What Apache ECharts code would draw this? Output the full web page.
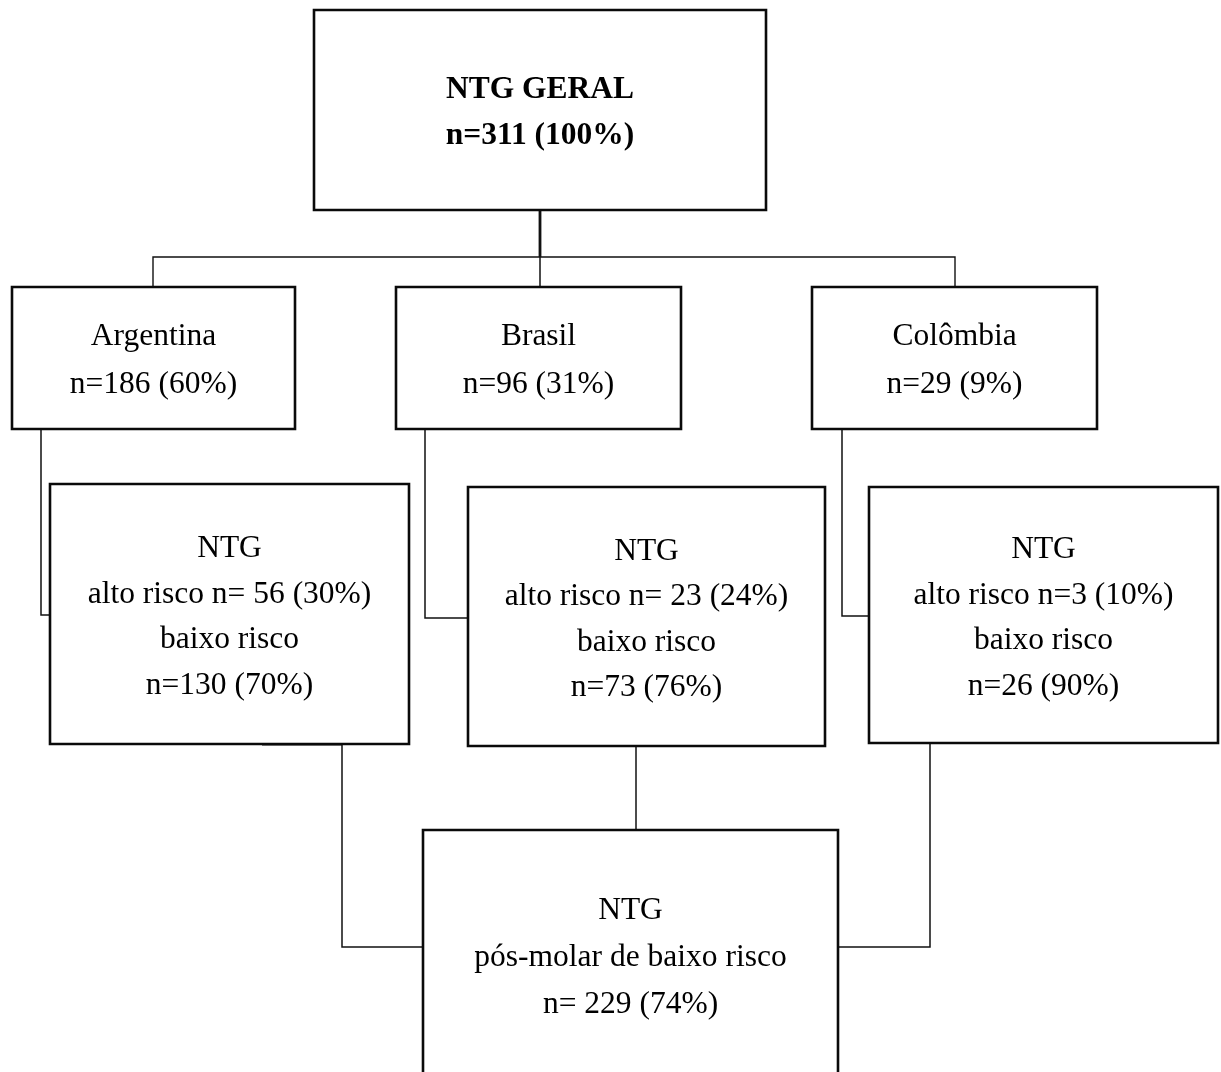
<!DOCTYPE html>
<html>
<head>
<meta charset="utf-8">
<script src="https://cdn.jsdelivr.net/npm/echarts@6/dist/echarts.min.js"></script>
<style>
html,body{margin:0;padding:0;background:#fff;}
#chart{width:1221px;height:1072px;}
</style>
</head>
<body>
<div id="chart"></div>
<script>
// ---- data ----
const rootTitle = 'NTG GERAL';
const totalN = 311;
const totalPct = 100;
const countries = ['Argentina', 'Brasil', 'Colômbia'];
const countryN = [186, 96, 29];
const countryPct = [60, 31, 9];
const highRiskN = [56, 23, 3];
const highRiskPct = [30, 24, 10];
const highRiskSep = [' ', ' ', ''];
const lowRiskN = [130, 73, 26];
const lowRiskPct = [70, 76, 90];
const finalTitle = 'pós-molar de baixo risco';
const finalN = 229;
const finalPct = 74;

// ---- texts ----
const rootText = rootTitle + '\nn=' + totalN + ' (' + totalPct + '%)';
const countryTexts = countries.map((c, i) => c + '\nn=' + countryN[i] + ' (' + countryPct[i] + '%)');
const ntgTexts = countries.map((c, i) =>
  'NTG\nalto risco n=' + highRiskSep[i] + highRiskN[i] + ' (' + highRiskPct[i] + '%)\nbaixo risco\nn=' + lowRiskN[i] + ' (' + lowRiskPct[i] + '%)');
const finalText = 'NTG\n' + finalTitle + '\nn= ' + finalN + ' (' + finalPct + '%)';

// ---- layout (diagram coordinates on hidden value axes) ----
const boxLayout = [
  {r: [314, 10, 766, 210], text: rootText, bold: true, lh: 46},
  {r: [12, 287, 295, 429], text: countryTexts[0], lh: 48},
  {r: [396, 287, 681, 429], text: countryTexts[1], lh: 48},
  {r: [812, 287, 1097, 429], text: countryTexts[2], lh: 48},
  {r: [50, 484, 409, 744], text: ntgTexts[0], lh: 45.5},
  {r: [468, 487, 825, 746], text: ntgTexts[1], lh: 45.5},
  {r: [869, 487, 1218, 743], text: ntgTexts[2], lh: 45.5},
  {r: [423, 830, 838, 1080], text: finalText, lh: 47}
];
const connectorLayout = [
  {p: [[540, 210], [540, 257]], w: 2.8},
  {p: [[153, 287], [153, 257], [955, 257], [955, 287]], w: 1.4},
  {p: [[540, 257], [540, 287]], w: 1.5},
  {p: [[41, 429], [41, 615], [50, 615]], w: 1.5},
  {p: [[425, 429], [425, 618], [468, 618]], w: 1.5},
  {p: [[842, 429], [842, 616], [869, 616]], w: 1.5},
  {p: [[342, 744], [342, 947], [423, 947]], w: 1.5},
  {p: [[262, 744], [342, 744]], w: 3},
  {p: [[636, 746], [636, 830]], w: 1.5},
  {p: [[838, 947], [930, 947], [930, 743]], w: 1.5}
];
const TEXT_SHIFT = 3;

const FONT = '"Liberation Serif", "Times New Roman", serif';

const chart = echarts.init(document.getElementById('chart'), null, {renderer: 'canvas'});
chart.setOption({
  animation: false,
  backgroundColor: '#ffffff',
  grid: {left: 0, right: 0, top: 0, bottom: 0},
  xAxis: {type: 'value', min: 0, max: 1221, show: false},
  yAxis: {type: 'value', min: 0, max: 1072, inverse: true, show: false},
  series: [
    {
      type: 'custom',
      z: 1,
      clip: false,
      data: connectorLayout.map((c, i) => [i]),
      renderItem: function (params, api) {
        const c = connectorLayout[api.value(0)];
        return {
          type: 'polyline',
          shape: {points: c.p.map(pt => api.coord(pt))},
          style: {stroke: '#111111', lineWidth: c.w, fill: null}
        };
      }
    },
    {
      type: 'custom',
      z: 2,
      clip: false,
      data: boxLayout.map((b, i) => [b.r[0], b.r[1], b.r[2], b.r[3], i]),
      renderItem: function (params, api) {
        const b = boxLayout[api.value(4)];
        const p0 = api.coord([api.value(0), api.value(1)]);
        const p1 = api.coord([api.value(2), api.value(3)]);
        return {
          type: 'group',
          children: [
            {
              type: 'rect',
              shape: {x: p0[0], y: p0[1], width: p1[0] - p0[0], height: p1[1] - p0[1]},
              style: {fill: '#ffffff', stroke: '#0a0a0a', lineWidth: 2.6}
            },
            {
              type: 'text',
              style: {
                text: b.text,
                x: (p0[0] + p1[0]) / 2,
                y: (p0[1] + p1[1]) / 2 + TEXT_SHIFT,
                align: 'center',
                verticalAlign: 'middle',
                fontFamily: FONT,
                fontSize: 31.5,
                fontWeight: b.bold ? 'bold' : 'normal',
                lineHeight: b.lh,
                fill: '#000000'
              }
            }
          ]
        };
      }
    }
  ]
});
</script>
</body>
</html>
